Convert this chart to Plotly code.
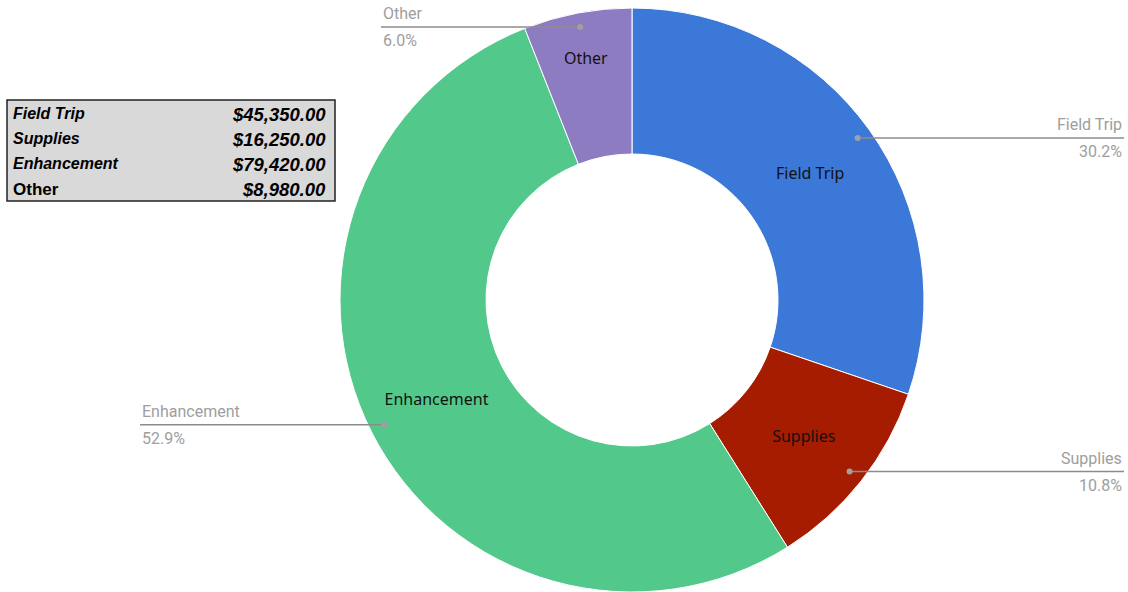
import math
import plotly.graph_objects as go

# ---- data ----
categories = ["Field Trip", "Supplies", "Enhancement", "Other"]
values = [45350, 16250, 79420, 8980]
table_labels = ["Field Trip", "Supplies", "Enhancement", "Other"]
table_values = [45350, 16250, 79420, 8980]

# ---- style ----
colors = ["#3c78d8", "#a61c00", "#52c98b", "#8e7cc3"]
W, H = 1128, 592
CX, CY, R = 632, 300, 292
RIGHT_END = 1124
LEFT_END = {"Enhancement": 140, "Other": 381}
GREY = "#9e9e9e"
LINE_GREY = "#8c8c8c"


def px(x):
    return x / W


def py(y):
    return 1 - y / H


fig = go.Figure()
fig.add_trace(go.Pie(
    labels=categories,
    values=values,
    sort=False,
    direction="clockwise",
    rotation=0,
    hole=0.5,
    textinfo="label",
    textposition="inside",
    insidetextorientation="horizontal",
    insidetextfont=dict(family="Noto Sans", size=16, color="#111111"),
    marker=dict(colors=colors, line=dict(color="#ffffff", width=1)),
    domain=dict(x=[(CX - 293) / W, (CX + 293) / W], y=[0, 2 * R / H]),
    showlegend=False,
    hoverinfo="label+value+percent",
))

shapes = []
annotations = []

total = sum(values)
cum = 0.0
for cat, v in zip(categories, values):
    frac = v / total
    mid = (cum + frac / 2) * 2 * math.pi
    cum += frac
    dx = CX + 0.95 * R * math.sin(mid)
    dy = CY - 0.5 - 0.95 * R * math.cos(mid)
    right = math.sin(mid) > 0
    end = RIGHT_END if right else LEFT_END[cat]
    shapes.append(dict(type="line", xref="paper", yref="paper",
                       x0=px(dx), y0=py(dy), x1=px(end), y1=py(dy),
                       line=dict(color=LINE_GREY, width=1.5)))
    shapes.append(dict(type="circle", xref="paper", yref="paper",
                       x0=px(dx - 3), y0=py(dy - 3), x1=px(dx + 3), y1=py(dy + 3),
                       fillcolor="#a0a0a0", line=dict(width=0)))
    anchor = "right" if right else "left"
    annotations.append(dict(xref="paper", yref="paper", x=px(end), y=py(dy - 2),
                            xanchor=anchor, yanchor="bottom", showarrow=False,
                            text=cat, font=dict(family="Roboto", size=16, color=GREY)))
    annotations.append(dict(xref="paper", yref="paper", x=px(end), y=py(dy + 2),
                            xanchor=anchor, yanchor="top", showarrow=False,
                            text=f"{frac * 100:.1f}%",
                            font=dict(family="Roboto", size=16, color=GREY)))

# ---- table box ----
shapes.append(dict(type="rect", xref="paper", yref="paper",
                   x0=px(7), y0=py(100), x1=px(335), y1=py(201),
                   fillcolor="#d9d9d9", line=dict(color="#222222", width=1.5),
                   layer="below"))
row_y = [114, 139, 164, 189]
for i, (lab, val) in enumerate(zip(table_labels, table_values)):
    if lab != "Other":
        lab_font = dict(family="Liberation Sans", size=16, color="#000000",
                        weight="bold", style="italic")
    else:
        lab_font = dict(family="Liberation Sans", size=17, color="#000000", weight="bold")
    annotations.append(dict(xref="paper", yref="paper", x=px(11), y=py(row_y[i]),
                            xanchor="left", yanchor="middle", showarrow=False,
                            text=lab, font=lab_font))
    annotations.append(dict(xref="paper", yref="paper", x=px(328), y=py(row_y[i] + 0.5),
                            xanchor="right", yanchor="middle", showarrow=False,
                            text=f"${val:,.2f}",
                            font=dict(family="Liberation Sans", size=18.5, color="#000000",
                                      weight="bold", style="italic")))

fig.update_layout(
    width=W, height=H,
    margin=dict(l=0, r=0, t=0, b=0),
    paper_bgcolor="#ffffff",
    plot_bgcolor="#ffffff",
    shapes=shapes,
    annotations=annotations,
)

fig.write_html(
    "out.html",
    config={"displayModeBar": False},
    post_script="document.body.style.margin='0';document.body.style.overflow='hidden';",
)
